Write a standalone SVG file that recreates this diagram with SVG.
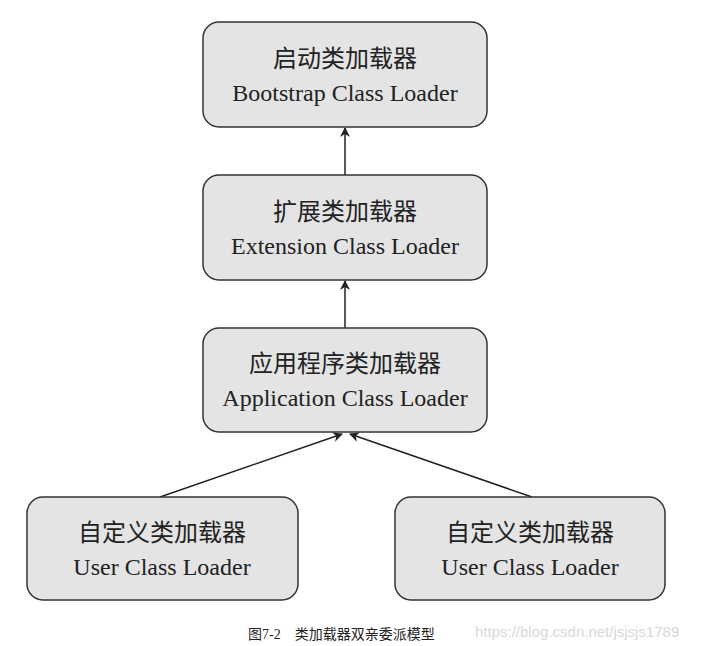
<svg xmlns="http://www.w3.org/2000/svg" width="702" height="646" viewBox="0 0 702 646">
<style>
.box{fill:#e4e4e4;stroke:#333;stroke-width:1.5}
.t{font-family:"Liberation Serif","Noto Sans CJK SC",serif;font-size:24px;fill:#222;text-anchor:middle}
.c{stroke:#222;stroke-width:1.5;fill:none}
</style>
<defs><marker id="a" markerWidth="10" markerHeight="10" refX="9" refY="5" orient="auto" markerUnits="userSpaceOnUse"><path d="M0,0 L10,5 L0,10 L3,5 Z" fill="#222"/></marker></defs>
<rect width="702" height="646" fill="#fff"/>
<g id="connectors">
<line class="c" x1="345" y1="175" x2="345" y2="128" marker-end="url(#a)"/>
<line class="c" x1="345" y1="328" x2="345" y2="281" marker-end="url(#a)"/>
<line class="c" x1="160" y1="497" x2="342" y2="434" marker-end="url(#a)"/>
<line class="c" x1="532" y1="497" x2="350" y2="434" marker-end="url(#a)"/>
</g>
<g id="bootstrap"><rect class="box" x="203" y="22" width="284" height="105" rx="16"/><text class="t" x="345" y="67">启动类加载器</text><text class="t" x="345" y="101">Bootstrap Class Loader</text></g>
<g id="extension"><rect class="box" x="203" y="175" width="284" height="105" rx="16"/><text class="t" x="345" y="220">扩展类加载器</text><text class="t" x="345" y="254">Extension Class Loader</text></g>
<g id="application"><rect class="box" x="203" y="328" width="284" height="104" rx="16"/><text class="t" x="345" y="372">应用程序类加载器</text><text class="t" x="345" y="406">Application Class Loader</text></g>
<g id="user1"><rect class="box" x="27" y="497" width="271" height="103" rx="16"/><text class="t" x="162" y="541">自定义类加载器</text><text class="t" x="162" y="575">User Class Loader</text></g>
<g id="user2"><rect class="box" x="395" y="497" width="270" height="103" rx="16"/><text class="t" x="530" y="541">自定义类加载器</text><text class="t" x="530" y="575">User Class Loader</text></g>
<text x="248" y="639" font-family="Liberation Serif,Noto Sans CJK SC,serif" font-size="14" fill="#222">图7-2　类加载器双亲委派模型</text>
<text x="475" y="637" font-family="Liberation Sans,sans-serif" font-size="15" fill="#d8d8d8">https://blog.csdn.net/jsjsjs1789</text>
</svg>
